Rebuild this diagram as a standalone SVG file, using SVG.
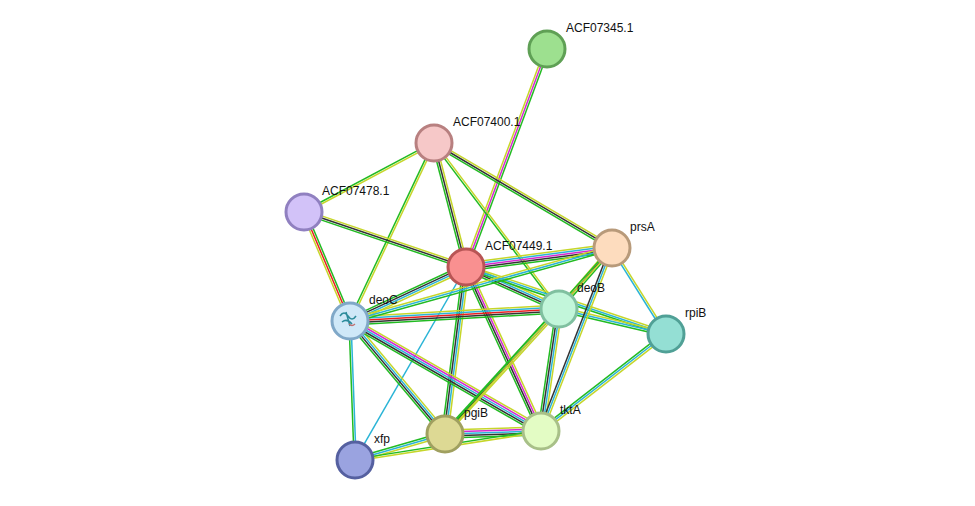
<svg xmlns="http://www.w3.org/2000/svg" width="975" height="506" viewBox="0 0 975 506">
<style>
line{stroke-width:1.5;fill:none}
.y{stroke:#c6d62a}.k{stroke:#333}.c{stroke:#2ab4d6}.m{stroke:#d52ad0}.r{stroke:#e82020}.g{stroke:#22bb22}
circle{stroke-width:3}
text{font-family:"Liberation Sans",Arial,sans-serif;font-size:12px;fill:#111}
</style>
<rect width="975" height="506" fill="#fff"/>
<g id="edges">
<g transform="translate(466,267) rotate(-69.6)"><line class="y" x2="232.6" y1="-2" y2="-2"/><line class="m" x2="232.6"/><line class="g" x2="232.6" y1="2" y2="2"/></g>
<g transform="translate(434,143) rotate(152)"><line class="y" x2="147.2" y1="-1" y2="-1"/><line class="g" x2="147.2" y1="1" y2="1"/></g>
<g transform="translate(434,143) rotate(75.5)"><line class="y" x2="128.1" y1="-2" y2="-2"/><line class="k" x2="128.1"/><line class="g" x2="128.1" y1="2" y2="2"/></g>
<g transform="translate(434,143) rotate(30.5)"><line class="y" x2="206.7" y1="-2" y2="-2"/><line class="k" x2="206.7"/><line class="g" x2="206.7" y1="2" y2="2"/></g>
<g transform="translate(434,143) rotate(53)"><line class="y" x2="207.8" y1="-1" y2="-1"/><line class="g" x2="207.8" y1="1" y2="1"/></g>
<g transform="translate(434,143) rotate(115.3)"><line class="y" x2="196.8" y1="-1" y2="-1"/><line class="g" x2="196.8" y1="1" y2="1"/></g>
<g transform="translate(304,212) rotate(18.75)"><line class="y" x2="171.1" y1="-2" y2="-2"/><line class="k" x2="171.1"/><line class="g" x2="171.1" y1="2" y2="2"/></g>
<g transform="translate(304,212) rotate(67.1)"><line class="g" x2="118.3" y1="-2" y2="-2"/><line class="r" x2="118.3"/><line class="y" x2="118.3" y1="2" y2="2"/></g>
<g transform="translate(466,267) rotate(-7.4)"><line class="y" x2="147.2" y1="-4" y2="-4"/><line class="c" x2="147.2" y1="-2" y2="-2"/><line class="m" x2="147.2"/><line class="k" x2="147.2" y1="2" y2="2"/><line class="g" x2="147.2" y1="4" y2="4"/></g>
<g transform="translate(466,267) rotate(24.3)"><line class="y" x2="102" y1="-3" y2="-3"/><line class="c" x2="102" y1="-1" y2="-1"/><line class="k" x2="102" y1="1" y2="1"/><line class="g" x2="102" y1="3" y2="3"/></g>
<g transform="translate(466,267) rotate(155)"><line class="y" x2="128" y1="-3" y2="-3"/><line class="c" x2="128" y1="-1" y2="-1"/><line class="k" x2="128" y1="1" y2="1"/><line class="g" x2="128" y1="3" y2="3"/></g>
<g transform="translate(466,267) rotate(18.5)"><line class="y" x2="210.9" y1="-2" y2="-2"/><line class="c" x2="210.9"/><line class="g" x2="210.9" y1="2" y2="2"/></g>
<g transform="translate(466,267) rotate(97.2)"><line class="y" x2="168.3" y1="-3" y2="-3"/><line class="c" x2="168.3" y1="-1" y2="-1"/><line class="k" x2="168.3" y1="1" y2="1"/><line class="g" x2="168.3" y1="3" y2="3"/></g>
<g transform="translate(466,267) rotate(65.4)"><line class="y" x2="180.3" y1="-3" y2="-3"/><line class="m" x2="180.3" y1="-1" y2="-1"/><line class="k" x2="180.3" y1="1" y2="1"/><line class="g" x2="180.3" y1="3" y2="3"/></g>
<g transform="translate(466,267) rotate(119.9)"><line class="c" x2="222.6"/></g>
<g transform="translate(350,321) rotate(-3.3)"><line class="y" x2="209.3" y1="-4" y2="-4"/><line class="c" x2="209.3" y1="-2" y2="-2"/><line class="r" x2="209.3"/><line class="k" x2="209.3" y1="2" y2="2"/><line class="g" x2="209.3" y1="4" y2="4"/></g>
<g transform="translate(350,321) rotate(-15.6)"><line class="y" x2="272" y1="-2" y2="-2"/><line class="c" x2="272"/><line class="g" x2="272" y1="2" y2="2"/></g>
<g transform="translate(350,321) rotate(50)"><line class="y" x2="147.6" y1="-3" y2="-3"/><line class="c" x2="147.6" y1="-1" y2="-1"/><line class="k" x2="147.6" y1="1" y2="1"/><line class="g" x2="147.6" y1="3" y2="3"/></g>
<g transform="translate(350,321) rotate(29.9)"><line class="y" x2="220.4" y1="-4" y2="-4"/><line class="m" x2="220.4" y1="-2" y2="-2"/><line class="c" x2="220.4"/><line class="k" x2="220.4" y1="2" y2="2"/><line class="g" x2="220.4" y1="4" y2="4"/></g>
<g transform="translate(350,321) rotate(87.9)"><line class="c" x2="139.1" y1="-1" y2="-1"/><line class="g" x2="139.1" y1="1" y2="1"/></g>
<g transform="translate(559,309) rotate(-49)"><line class="y" x2="80.8" y1="-2" y2="-2"/><line class="k" x2="80.8"/><line class="g" x2="80.8" y1="2" y2="2"/></g>
<g transform="translate(559,309) rotate(13.2)"><line class="y" x2="109.9" y1="-2" y2="-2"/><line class="c" x2="109.9"/><line class="g" x2="109.9" y1="2" y2="2"/></g>
<g transform="translate(559,309) rotate(132.4)"><line class="y" x2="169.2" y1="-2" y2="-2"/><line class="k" x2="169.2"/><line class="g" x2="169.2" y1="2" y2="2"/></g>
<g transform="translate(559,309) rotate(98.4)"><line class="y" x2="123.3" y1="-3" y2="-3"/><line class="c" x2="123.3" y1="-1" y2="-1"/><line class="k" x2="123.3" y1="1" y2="1"/><line class="g" x2="123.3" y1="3" y2="3"/></g>
<g transform="translate(612,248) rotate(57.9)"><line class="y" x2="101.5" y1="-1" y2="-1"/><line class="c" x2="101.5" y1="1" y2="1"/></g>
<g transform="translate(612,248) rotate(111.2)"><line class="y" x2="196.3" y1="-2" y2="-2"/><line class="c" x2="196.3"/><line class="k" x2="196.3" y1="2" y2="2"/></g>
<g transform="translate(612,248) rotate(131.9)"><line class="y" x2="250" y1="-1" y2="-1"/><line class="g" x2="250" y1="1" y2="1"/></g>
<g transform="translate(666,334) rotate(142.2)"><line class="y" x2="158.2" y1="-2" y2="-2"/><line class="c" x2="158.2"/><line class="g" x2="158.2" y1="2" y2="2"/></g>
<g transform="translate(445,434) rotate(-1.8)"><line class="y" x2="96" y1="-4" y2="-4"/><line class="m" x2="96" y1="-2" y2="-2"/><line class="c" x2="96"/><line class="k" x2="96" y1="2" y2="2"/><line class="g" x2="96" y1="4" y2="4"/></g>
<g transform="translate(445,434) rotate(163.9)"><line class="y" x2="93.7" y1="-2" y2="-2"/><line class="c" x2="93.7"/><line class="g" x2="93.7" y1="2" y2="2"/></g>
<g transform="translate(541,431) rotate(171.1)"><line class="y" x2="188.2" y1="-1" y2="-1"/><line class="g" x2="188.2" y1="1" y2="1"/></g>
</g>
<g id="ACF07345.1"><circle cx="547" cy="49" r="18" fill="#9de08f" stroke="#5fa055"/><text x="566" y="32">ACF07345.1</text></g>
<g id="ACF07400.1"><circle cx="434" cy="143" r="18" fill="#f6c8c8" stroke="#b88080"/><text x="453" y="126">ACF07400.1</text></g>
<g id="ACF07478.1"><circle cx="304" cy="212" r="18" fill="#d2c2f8" stroke="#9080c0"/><text x="322" y="195">ACF07478.1</text></g>
<g id="ACF07449.1"><circle cx="466" cy="267" r="18" fill="#f99090" stroke="#b85555"/><text x="485" y="250">ACF07449.1</text></g>
<g id="prsA"><circle cx="612" cy="248" r="18" fill="#fddcbe" stroke="#b89a7a"/><text x="630" y="231">prsA</text></g>
<g id="deoC"><circle cx="350" cy="321" r="18" fill="#cfe8f8" stroke="#80a8c8"/><path d="M340 316 q4 -6 8 0 q4 6 8 0 M342 322 q5 -4 10 2 M346 312 l4 14" stroke="#2a8a9a" stroke-width="1.5" fill="none"/><path d="M349 324 q3 3 6 0" stroke="#c07070" stroke-width="1.2" fill="none"/><text x="369" y="304">deoC</text></g>
<g id="deoB"><circle cx="559" cy="309" r="18" fill="#c2f6da" stroke="#80c0a0"/><text x="577" y="292">deoB</text></g>
<g id="rpiB"><circle cx="666" cy="334" r="18" fill="#94dfd4" stroke="#50a096"/><text x="685" y="317">rpiB</text></g>
<g id="pgiB"><circle cx="445" cy="434" r="18" fill="#ddd994" stroke="#a0a060"/><text x="464" y="417">pgiB</text></g>
<g id="tktA"><circle cx="541" cy="431" r="18" fill="#e3fcc4" stroke="#a8c088"/><text x="560" y="414">tktA</text></g>
<g id="xfp"><circle cx="355" cy="460" r="18" fill="#9aa3e0" stroke="#5560a0"/><text x="374" y="443">xfp</text></g>
</svg>
